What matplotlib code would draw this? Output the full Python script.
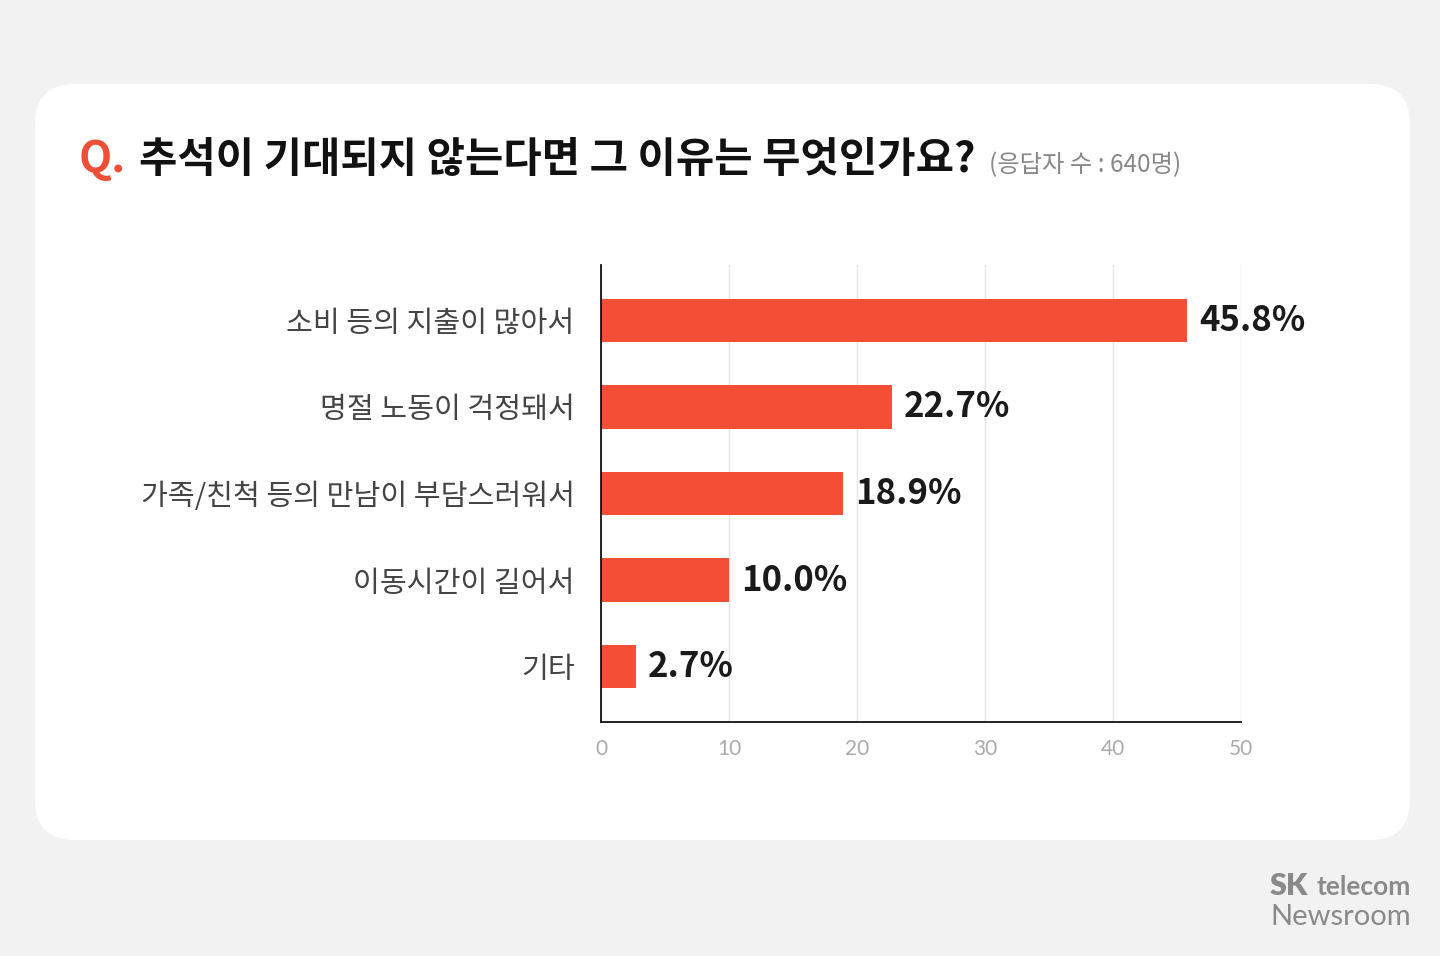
import matplotlib
matplotlib.use("Agg")
import matplotlib.pyplot as plt
from matplotlib.patches import FancyBboxPatch

plt.rcParams['font.family'] = ['Noto Sans CJK KR', 'DejaVu Sans']

categories = ["소비 등의 지출이 많아서", "명절 노동이 걱정돼서", "가족/친척 등의 만남이 부담스러워서", "이동시간이 길어서", "기타"]
values = [45.8, 22.7, 18.9, 10.0, 2.7]
value_labels = ["45.8%", "22.7%", "18.9%", "10.0%", "2.7%"]
xticks = [0, 10, 20, 30, 40, 50]

title_q = "Q."
title = "추석이 기대되지 않는다면 그 이유는 무엇인가요?"
subtitle = "(응답자 수 : 640명)"

W, H = 1440, 956
fig = plt.figure(figsize=(W / 100, H / 100), dpi=100)
fig.patch.set_facecolor("#f2f2f2")

bg = fig.add_axes([0, 0, 1, 1])
bg.set_xlim(0, W)
bg.set_ylim(H, 0)
bg.axis("off")
card = FancyBboxPatch((35 + 40, 84 + 40), 1375 - 80, 756 - 80,
                      boxstyle="round,pad=40", facecolor="white", edgecolor="none")
bg.add_patch(card)

fig.text(79 / W, 1 - 172 / H, title_q, color="#f04e37", fontsize=31, fontweight="bold", va="baseline", ha="left")
fig.text(139 / W, 1 - 172 / H, title, color="#111111", fontsize=30, fontweight="bold", va="baseline", ha="left")
fig.text(989 / W, 1 - 172 / H, subtitle, color="#888888", fontsize=17.5, va="baseline", ha="left")

# logo
fig.text(1308 / W, 1 - 895 / H, "SK", color="#8a8a8a", fontsize=22, fontweight="heavy",
         va="baseline", ha="right", family="Lato")
fig.text(1411 / W, 1 - 895 / H, "telecom", color="#8a8a8a", fontsize=19, fontweight="bold",
         va="baseline", ha="right", family="Lato")
fig.text(1411 / W, 1 - 925 / H, "Newsroom", color="#8a8a8a", fontsize=21,
         va="baseline", ha="right", family="Lato")

# chart
left, right, top, bottom = 601, 1241, 265, 722
ax = fig.add_axes([left / W, 1 - bottom / H, (right - left) / W, (bottom - top) / H])
ax.set_facecolor("none")
y = list(range(len(categories)))
ax.barh(y, values, height=0.5, color="#f44e36", zorder=3)
ax.set_xlim(0, 50)
ax.set_ylim(4.64, -0.64)
ax.set_xticks(xticks)
ax.set_xticklabels([str(t) for t in xticks], color="#aaaaaa", fontsize=15, family=["Lato", "DejaVu Sans"])
ax.set_yticks(y)
ax.set_yticklabels(categories, color="#444444", fontsize=21)
ax.tick_params(axis="x", length=0, pad=12)
ax.tick_params(axis="y", length=0, pad=19)
ax.grid(axis="x", color="#e5e5e5", linewidth=1, zorder=0)
for s in ["top", "right"]:
    ax.spines[s].set_visible(False)
for s in ["left", "bottom"]:
    ax.spines[s].set_color("#111111")
    ax.spines[s].set_linewidth(1.3)
    ax.spines[s].set_zorder(4)
for yi, v, lab in zip(y, values, value_labels):
    ax.text(v + 0.95, yi, lab, va="center", ha="left", fontsize=25, color="#1a1a1a",
            fontweight="bold", zorder=5)

fig.savefig("out.png", dpi=100, facecolor=fig.get_facecolor())
